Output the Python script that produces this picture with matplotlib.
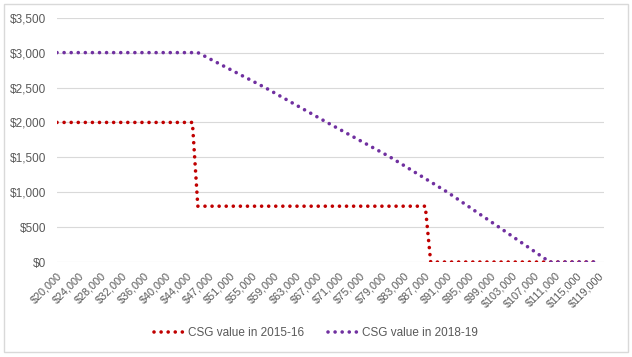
import matplotlib
matplotlib.use('Agg')
import matplotlib.pyplot as plt
from matplotlib.patches import Rectangle
from matplotlib.ticker import FuncFormatter

plt.rcParams['font.family'] = ['Liberation Sans', 'DejaVu Sans']

# Einkommen (Kategorien) - 20.000 bis 44.000, dann 45.000 / 45.500 / 46.000, dann 47.000 bis 119.000
incomes = list(range(20000, 45001, 1000)) + [45500] + list(range(46000, 119001, 1000))

# CSG 2015-16 (Stufen)
csg_2015 = [2000] * 26 + [800] * 43 + [0] * 32

# CSG 2018-19
csg_2018 = ([3000] * 27 +
            [2960, 2919, 2879, 2839, 2798, 2758, 2718, 2677, 2637, 2597, 2556, 2516,
             2474, 2430, 2386, 2343, 2299, 2255, 2212, 2168, 2125, 2081, 2037,
             1994, 1951, 1909, 1866, 1823, 1781, 1738, 1696, 1653, 1611, 1568, 1526,
             1481, 1433, 1386, 1338, 1290, 1243, 1195, 1148, 1100, 1052, 1005,
             953, 900, 847, 795, 742, 689, 637, 584, 532,
             479, 426, 372, 319, 266, 213, 160, 106, 53, 0] +
            [0] * 9)

labels = ['CSG value in 2015-16', 'CSG value in 2018-19']
colors = ['#C00000', '#7030A0']

x = list(range(len(incomes)))

fig = plt.figure(figsize=(6.32, 3.57), dpi=100)
ax = fig.add_axes([0.0902, 0.266, 0.8655, 0.6844])

dots = (0, (0.01, 1.95))
for vals, lab, col in zip([csg_2015, csg_2018], labels, colors):
    ax.plot(x, vals, color=col, lw=2.6, linestyle=dots,
            dash_capstyle='round', label=lab)

ax.set_xlim(0, len(incomes))
ax.set_ylim(0, 3500)
ax.set_yticks(range(0, 3501, 500))
ax.yaxis.set_major_formatter(FuncFormatter(lambda v, p: f'${v:,.0f}'))
ax.set_xticks(x[::4])
ax.set_xticklabels([f'${v:,}' for v in incomes[::4]], rotation=45,
                   ha='right', va='top', rotation_mode='anchor')

ax.grid(axis='y', color='#D9D9D9', lw=0.8)
ax.set_axisbelow(True)
for s in ax.spines.values():
    s.set_visible(False)
ax.tick_params(length=0, colors='#595959', labelsize=8.5)
ax.tick_params(axis='y', pad=8)
ax.tick_params(axis='x', pad=6, labelsize=7.8)

ax.legend(loc='center', bbox_to_anchor=(0.5, 0.068), bbox_transform=fig.transFigure,
          ncol=2, frameon=False, fontsize=8.5, labelcolor='#595959',
          handlelength=2.6, handletextpad=0.3, columnspacing=2.0)

fig.patches.append(Rectangle((0.007, 0.014), 0.986, 0.974, transform=fig.transFigure,
                             fill=False, edgecolor='#D9D9D9', lw=1))

fig.savefig('out.png', dpi=100)
